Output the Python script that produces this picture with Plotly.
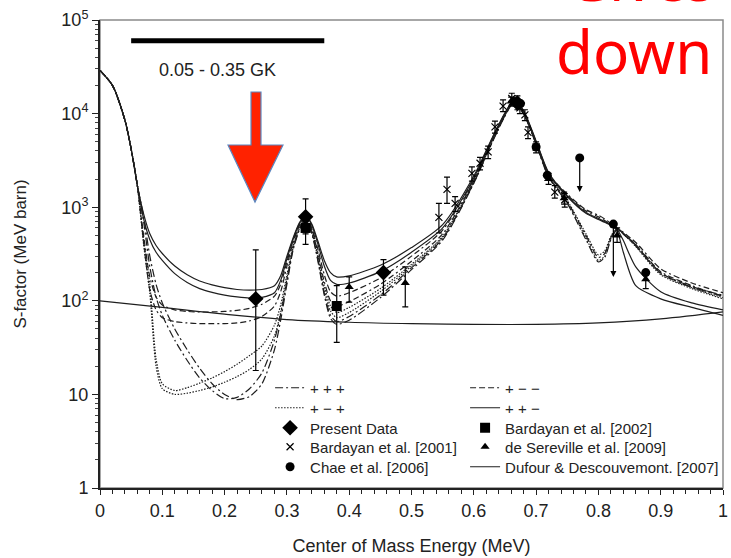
import math
import plotly.graph_objects as go

# ---------------------------------------------------------------- data
# energy grid (MeV) shared by the R-matrix curves
E_GRID = [0.0, 0.02, 0.04, 0.05, 0.06, 0.07, 0.08, 0.09, 0.10, 0.12, 0.14, 0.16, 0.18,
          0.20, 0.22, 0.24, 0.26, 0.28, 0.29, 0.30, 0.31, 0.32, 0.33, 0.34, 0.35, 0.36,
          0.37, 0.38, 0.40, 0.45, 0.50, 0.55, 0.60, 0.63, 0.65, 0.665, 0.68, 0.70, 0.72,
          0.75, 0.78, 0.80, 0.81, 0.82, 0.83, 0.84, 0.86, 0.90, 0.95, 1.00]

# S-factor curves (MeV barn), two for each interference sign choice
S_PPP_A = [29000, 20000, 8500, 4200, 1700, 700, 230, 110, 70, 38, 23, 15, 11,
           9, 9.3, 11.5, 17, 38, 72, 160, 360, 580, 730, 530, 270, 120,
           70, 60, 68, 115, 225, 460, 1820, 5050, 9500, 13400, 10000, 4750, 2120,
           1150, 500, 290, 320, 475, 585, 525, 395, 200, 142, 115]
S_PPP_B = [29000, 20000, 8500, 4200, 1700, 800, 300, 150, 95, 50, 30, 19, 13,
           10, 8.8, 9.5, 13, 30, 62, 150, 350, 570, 720, 520, 260, 115,
           65, 56, 62, 108, 215, 445, 1800, 5000, 9400, 13300, 9900, 4700, 2100,
           1100, 450, 260, 290, 450, 575, 515, 385, 198, 140, 112]
S_PMM_A = [29000, 20000, 8500, 4200, 1700, 500, 180, 110, 90, 80, 77, 76, 76,
           77, 79, 83, 92, 112, 150, 260, 440, 650, 790, 600, 350, 190,
           125, 112, 122, 175, 300, 570, 1980, 5400, 9900, 13800, 10400, 4950, 2280,
           1380, 940, 820, 750, 670, 600, 540, 420, 220, 155, 122]
S_PMM_B = [29000, 20000, 8500, 4200, 1700, 420, 130, 80, 66, 60, 58, 57, 57,
           57, 58, 61, 68, 88, 125, 235, 420, 630, 770, 580, 320, 160,
           100, 88, 98, 150, 265, 520, 1920, 5300, 9800, 13700, 10300, 4900, 2250,
           1350, 910, 790, 720, 650, 590, 520, 400, 205, 145, 112]
S_PMP_A = [29000, 20000, 8500, 4200, 1700, 450, 150, 24, 13, 11, 11.8, 13.2, 15,
           17.5, 21, 26, 33, 55, 90, 190, 390, 610, 760, 560, 300, 145,
           88, 75, 85, 135, 245, 490, 1880, 5200, 9700, 13600, 10200, 4850, 2200,
           1180, 520, 310, 340, 490, 600, 530, 390, 195, 138, 108]
S_PMP_B = [29000, 20000, 8500, 4200, 1700, 400, 120, 20, 11.5, 10, 10.3, 11, 12,
           13.5, 15.5, 18.5, 24, 42, 75, 170, 370, 590, 740, 540, 280, 130,
           78, 66, 75, 125, 235, 475, 1850, 5100, 9600, 13500, 10100, 4800, 2150,
           1120, 470, 270, 300, 460, 590, 520, 380, 190, 135, 105]
S_PPM_A = [29000, 20000, 8500, 4200, 1700, 850, 520, 390, 320, 235, 190, 163, 148,
           138, 132, 130, 132, 145, 185, 300, 470, 680, 830, 660, 430, 270,
           200, 180, 185, 240, 370, 650, 2150, 5600, 10200, 14200, 10800, 5100, 2350,
           1320, 880, 760, 700, 650, 560, 330, 145, 105, 85, 70]
S_PPM_B = [29000, 20000, 8500, 4200, 1700, 750, 450, 330, 270, 195, 157, 135, 123,
           115, 110, 107, 109, 122, 165, 280, 455, 665, 810, 640, 400, 235,
           165, 150, 155, 205, 330, 600, 2050, 5500, 10000, 14000, 10600, 5000, 2300,
           1300, 860, 740, 690, 640, 580, 440, 230, 125, 95, 80]

# Dufour & Descouvemont calculation
E_DD = [0.0, 0.1, 0.2, 0.3, 0.4, 0.5, 0.6, 0.7, 0.8, 0.9, 1.0]
S_DD = [100, 85, 72, 63, 59, 57, 56, 56, 58, 64, 76]

# measurements: energy, S-factor, upper and lower ends of the error bar
PRESENT_E = [0.25, 0.33, 0.455, 0.67]
PRESENT_S = [105, 790, 200, 13000]
PRESENT_HI = [350, 1230, 275, 15500]
PRESENT_LO = [18, 560, 115, 11000]

BAR02_E = [0.33, 0.38]
BAR02_S = [600, 88]
BAR02_HI = [800, 145]
BAR02_LO = [400, 36]

BAR01_E = [0.544, 0.557, 0.570, 0.597, 0.610, 0.623, 0.634, 0.647, 0.661, 0.674,
           0.682, 0.687, 0.700, 0.730, 0.746]
BAR01_S = [780, 1550, 1100, 2300, 2950, 3900, 7200, 12000, 14500, 11500,
           9700, 6300, 4400, 1450, 1200]
BAR01_HI = [1100, 2100, 1300, 2700, 3400, 4500, 8300, 14000, 16500, 13000,
            11000, 7200, 5000, 1700, 1400]
BAR01_LO = [530, 1100, 900, 1900, 2500, 3300, 6200, 10500, 12500, 10000,
            8400, 5400, 3800, 1250, 1000]

DESER_E = [0.33, 0.40, 0.49, 0.66, 0.72, 0.745, 0.83, 0.876]
DESER_S = [640, 140, 155, 13500, 2000, 1250, 500, 170]
DESER_HI = [760, 180, 230, 15000, 2300, 1450, 600, 210]
DESER_LO = [520, 97, 86, 12000, 1750, 1080, 420, 135]

CHAE_E = [0.665, 0.675, 0.700, 0.718, 0.876]
CHAE_S = [13500, 12800, 4400, 2200, 200]

# Chae et al. upper limits: marker value and arrow end
CHAE_UL_E = [0.770, 0.824]
CHAE_UL_S = [3360, 660]
CHAE_UL_END = [1450, 180]

# y-axis decades
Y_TICKS = [1, 10, 100, 1000, 10000, 100000]
Y_LABELS = ["1", "10", "10<sup>2</sup>", "10<sup>3</sup>", "10<sup>4</sup>", "10<sup>5</sup>"]
Y_MINOR = [m * d for d in [1, 10, 100, 1000, 10000] for m in range(2, 10)]
X_TICKS = [0, 0.1, 0.2, 0.3, 0.4, 0.5, 0.6, 0.7, 0.8, 0.9, 1.0]
X_LABELS = ["0", "0.1", "0.2", "0.3", "0.4", "0.5", "0.6", "0.7", "0.8", "0.9", "1"]

# Gamow window for 0.05 - 0.35 GK
GAMOW_E = [0.05, 0.36]
GAMOW_S = [60000, 60000]

# ---------------------------------------------------------------- figure
FONT = "Liberation Sans, Arial, sans-serif"
CURVE_COLOR = "#1e1e1e"

DASHDOT = "8px,3px,2px,3px"
DASHED = "6px,3px,6px,3px,6px,3px,2px,3px"
DOTTED = "1.5px,1.5px"

# key entries in reading order: two columns, five rows
KEY_ORDER = ["+ + +", "+ \u2212 \u2212",
             "+ \u2212 +", "+ + \u2212",
             "Present Data", "Bardayan et al. [2002]",
             "Bardayan et al. [2001]", "de Sereville et al. [2009]",
             "Chae et al. [2006]", "Dufour & Descouvemont. [2007]"]
KEY_ID = {name: ("legend" if i == 0 else f"legend{i + 1}") for i, name in enumerate(KEY_ORDER)}

fig = go.Figure()

curves = [
    ("+ + +", S_PPP_A, DASHDOT, True),
    ("+ + +", S_PPP_B, DASHDOT, False),
    ("+ \u2212 \u2212", S_PMM_A, DASHED, True),
    ("+ \u2212 \u2212", S_PMM_B, DASHED, False),
    ("+ \u2212 +", S_PMP_A, DOTTED, True),
    ("+ \u2212 +", S_PMP_B, DOTTED, False),
    ("+ + \u2212", S_PPM_A, "solid", True),
    ("+ + \u2212", S_PPM_B, "solid", False),
]
for name, vals, dash, show in curves:
    fig.add_trace(go.Scatter(
        x=E_GRID, y=vals, mode="lines", name=name, legendgroup=name,
        showlegend=show, legend=KEY_ID[name],
        line=dict(color=CURVE_COLOR, width=1.2, dash=dash, shape="spline", smoothing=0.7),
    ))


def err(vals, hi, lo):
    return dict(type="data", symmetric=False,
                array=[h - v for h, v in zip(hi, vals)],
                arrayminus=[v - l for v, l in zip(vals, lo)],
                color="black", thickness=1.2, width=3)


fig.add_trace(go.Scatter(
    x=PRESENT_E, y=PRESENT_S, mode="markers", name="Present Data",
    legend=KEY_ID["Present Data"],
    marker=dict(symbol="diamond", size=12, color="black"),
    error_y=err(PRESENT_S, PRESENT_HI, PRESENT_LO),
))
fig.add_trace(go.Scatter(
    x=BAR02_E, y=BAR02_S, mode="markers", name="Bardayan et al. [2002]",
    legend=KEY_ID["Bardayan et al. [2002]"],
    marker=dict(symbol="square", size=10, color="black"),
    error_y=err(BAR02_S, BAR02_HI, BAR02_LO),
))
fig.add_trace(go.Scatter(
    x=BAR01_E, y=BAR01_S, mode="markers", name="Bardayan et al. [2001]",
    legend=KEY_ID["Bardayan et al. [2001]"],
    marker=dict(symbol="x-thin", size=7, color="black", line=dict(color="black", width=1.2)),
    error_y=err(BAR01_S, BAR01_HI, BAR01_LO),
))
fig.add_trace(go.Scatter(
    x=DESER_E, y=DESER_S, mode="markers", name="de Sereville et al. [2009]",
    legend=KEY_ID["de Sereville et al. [2009]"],
    marker=dict(symbol="triangle-up", size=8, color="black"),
    error_y=err(DESER_S, DESER_HI, DESER_LO),
))
fig.add_trace(go.Scatter(
    x=CHAE_E + CHAE_UL_E, y=CHAE_S + CHAE_UL_S, mode="markers", name="Chae et al. [2006]",
    legend=KEY_ID["Chae et al. [2006]"],
    marker=dict(symbol="circle", size=9, color="black"),
))
fig.add_trace(go.Scatter(
    x=E_DD, y=S_DD, mode="lines", name="Dufour & Descouvemont. [2007]",
    legend=KEY_ID["Dufour & Descouvemont. [2007]"],
    line=dict(color=CURVE_COLOR, width=1.2, shape="spline"),
))

# upper-limit arrows
for e, s, end in zip(CHAE_UL_E, CHAE_UL_S, CHAE_UL_END):
    fig.add_annotation(x=e, y=math.log10(end), ax=e, ay=math.log10(s),
                       xref="x", yref="y", axref="x", ayref="y", text="",
                       showarrow=True, arrowhead=2, arrowsize=1, arrowwidth=1.2,
                       arrowcolor="black")

# Gamow window bar
fig.add_trace(go.Scatter(x=GAMOW_E, y=GAMOW_S, mode="lines", showlegend=False,
                         line=dict(color="black", width=5)))

fig.add_annotation(x=0.188, y=0.893, xref="paper", yref="paper",
                   xanchor="center", yanchor="middle",
                   text="0.05 - 0.35 GK", showarrow=False,
                   font=dict(family=FONT, size=18, color="#222"))

# red arrow pointing at the low-energy region
fig.add_shape(type="path", xref="paper", yref="paper",
              path="M 0.2424 0.8462 L 0.2584 0.8462 L 0.2584 0.7329 L 0.2937 0.7329 "
                   "L 0.2488 0.6111 L 0.2055 0.7329 L 0.2424 0.7329 Z",
              fillcolor="#FF2200", line=dict(color="#5A86C0", width=1.2), layer="above")

# red caption in the top right corner
fig.add_annotation(x=0.988, y=0.999, xref="paper", yref="paper", xanchor="right",
                   yanchor="bottom", text="Gives", showarrow=False,
                   font=dict(family="Noto Sans", size=58, color="#FF0000"))
fig.add_annotation(x=0.985, y=1.026, xref="paper", yref="paper", xanchor="right",
                   yanchor="top", text="down", showarrow=False,
                   font=dict(family="Noto Sans", size=60, color="#FF0000"))

# thin grey frame on top / right
fig.add_shape(type="rect", xref="paper", yref="paper", x0=0, x1=1, y0=0, y1=1,
              line=dict(color="#8a8a8a", width=1.5), layer="below")

# one single-entry key box per slot
COLUMN_X = [0.273, 0.586]
ROW_PIXELS = [388, 408, 428, 447, 467]
legends = {}
for i, name in enumerate(KEY_ORDER):
    legends[KEY_ID[name]] = dict(
        x=COLUMN_X[i % 2], y=(488 - ROW_PIXELS[i // 2]) / 468,
        xanchor="left", yanchor="middle", bgcolor="rgba(0,0,0,0)",
        font=dict(family=FONT, size=15, color="#222"), itemwidth=30)

fig.update_layout(
    width=731, height=558,
    margin=dict(l=100, r=8, t=20, b=70, autoexpand=False),
    paper_bgcolor="white", plot_bgcolor="white",
    font=dict(family=FONT, color="#222"),
    showlegend=True,
    xaxis=dict(range=[0, 1], tickmode="array", tickvals=X_TICKS, ticktext=X_LABELS,
               showgrid=False, zeroline=False, showline=True, linecolor="#222",
               linewidth=2, ticks="outside", ticklen=5, tickwidth=1.2, tickcolor="#222",
               tickfont=dict(size=18, family=FONT, color="#222"),
               minor=dict(dtick=0.02, ticks="outside", ticklen=4, tickcolor="#222",
                          tickwidth=1),
               title=dict(text="Center of Mass Energy (MeV)", standoff=20,
                          font=dict(size=18, family=FONT, color="#222"))),
    yaxis=dict(type="log", range=[0, 5], tickmode="array", tickvals=Y_TICKS,
               ticktext=Y_LABELS, showgrid=False, zeroline=False, showline=True,
               linecolor="#222", linewidth=2, ticks="outside", ticklen=6, tickwidth=1.2,
               tickcolor="#222", tickfont=dict(size=18, family=FONT, color="#222"),
               minor=dict(tickmode="array", tickvals=Y_MINOR, ticks="outside", ticklen=3,
                          tickcolor="#444", tickwidth=1),
               title=dict(text="S-factor (MeV barn)", standoff=30,
                          font=dict(size=17, family=FONT, color="#222"))),
    **legends,
)

fig.write_html("out.html")
